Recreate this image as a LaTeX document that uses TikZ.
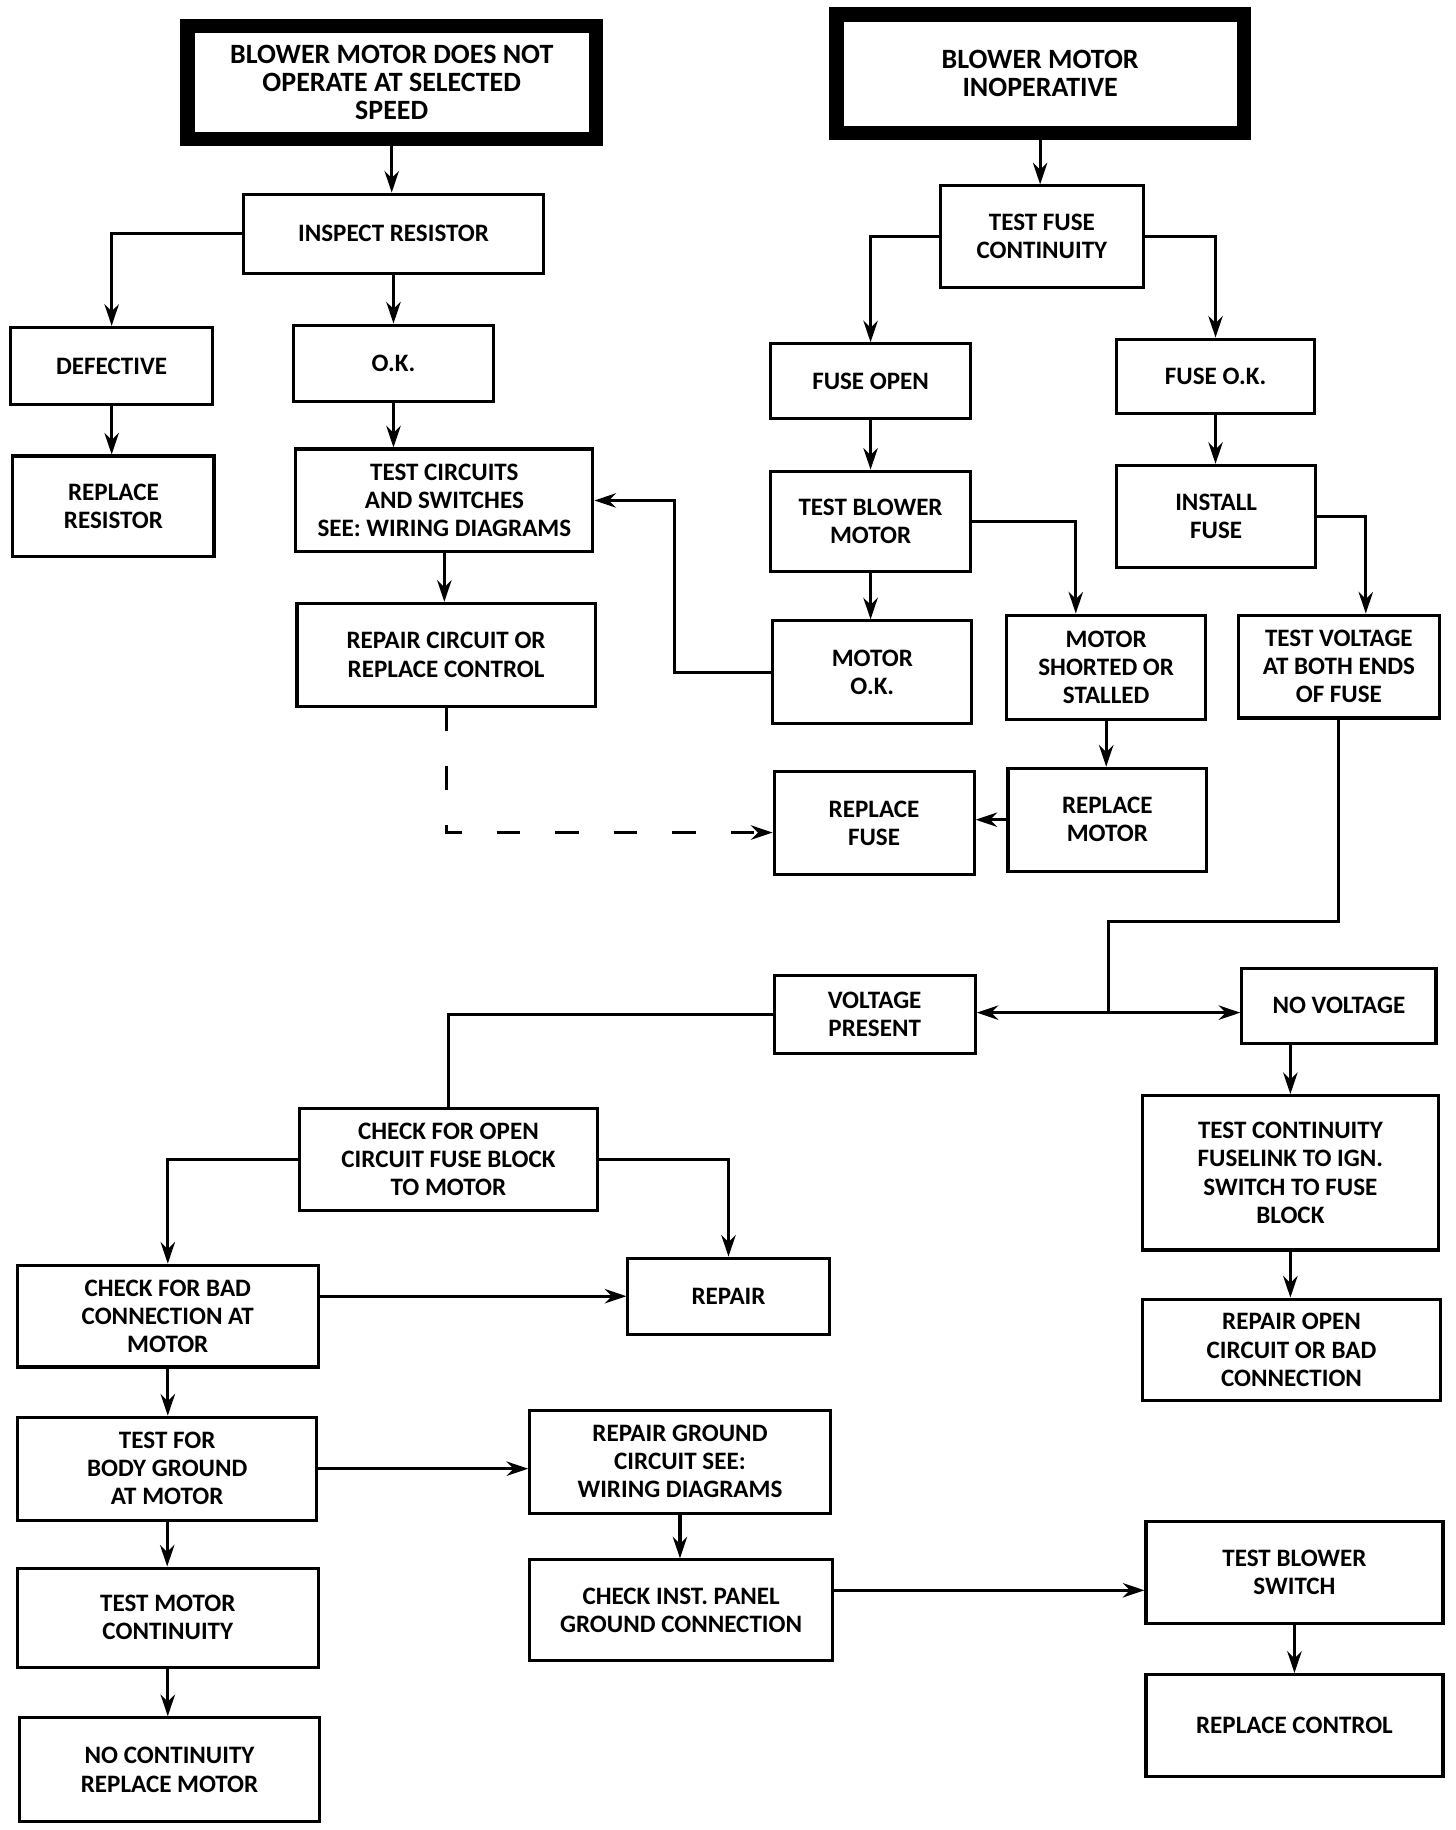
\documentclass[tikz,border=0pt]{standalone}
\usepackage{fontspec}
\setmainfont{Carlito}
\usepackage{tikz}
\usetikzlibrary{arrows.meta}

\begin{document}
\begin{tikzpicture}[->,>={Stealth[length=10.5pt,width=7pt]},line width=1.5pt]

                \tikzset{box/.style={draw, rectangle, align=center, fill=white, inner sep=2pt,
                                     font=\bfseries\fontsize{12.2}{13.7}\selectfont},
                         title/.style={box, line width=7pt, font=\bfseries\fontsize{13.6}{13.7}\selectfont},
                         dashline/.style={dash pattern=on 0.4cm off 0.6cm}}

                \useasboundingbox (0,0) rectangle (24.9,-31.3);

                % left column
                \node[title, minimum width=6.99cm, minimum height=1.93cm] (t1) at (6.70,-1.41) {BLOWER MOTOR DOES NOT\\OPERATE AT SELECTED\\SPEED};
                \node[box, minimum width=5.14cm, minimum height=1.36cm] (insp) at (6.73,-4.00) {INSPECT RESISTOR};
                \node[box, minimum width=3.46cm, minimum height=1.32cm] (defect) at (1.91,-6.26) {DEFECTIVE};
                \node[box, minimum width=3.42cm, minimum height=1.30cm] (ok1) at (6.73,-6.21) {O.K.};
                \node[box, minimum width=3.44cm, minimum height=1.72cm] (replres) at (1.94,-8.66) {REPLACE\\RESISTOR};
                \node[box, minimum width=5.08cm, minimum height=1.76cm] (testcirc) at (7.60,-8.56) {TEST CIRCUITS\\AND SWITCHES\\SEE: WIRING DIAGRAMS};
                \node[box, minimum width=5.10cm, minimum height=1.76cm] (repcirc) at (7.63,-11.20) {REPAIR CIRCUIT OR\\REPLACE CONTROL};

                % right column
                \node[title, minimum width=6.97cm, minimum height=2.03cm] (t2) at (17.79,-1.26) {BLOWER MOTOR\\INOPERATIVE};
                \node[box, minimum width=3.48cm, minimum height=1.74cm] (testfuse) at (17.82,-4.05) {TEST FUSE\\CONTINUITY};
                \node[box, minimum width=3.42cm, minimum height=1.28cm] (fuseopen) at (14.89,-6.52) {FUSE OPEN};
                \node[box, minimum width=3.38cm, minimum height=1.28cm] (fuseok) at (20.79,-6.44) {FUSE O.K.};
                \node[box, minimum width=3.42cm, minimum height=1.72cm] (testmotor) at (14.89,-8.92) {TEST BLOWER\\MOTOR};
                \node[box, minimum width=3.40cm, minimum height=1.74cm] (install) at (20.80,-8.83) {INSTALL\\FUSE};
                \node[box, minimum width=3.40cm, minimum height=1.76cm] (motorok) at (14.92,-11.50) {MOTOR\\O.K.};
                \node[box, minimum width=3.40cm, minimum height=1.78cm] (shorted) at (18.92,-11.41) {MOTOR\\SHORTED OR\\STALLED};
                \node[box, minimum width=3.44cm, minimum height=1.76cm] (testvolt) at (22.90,-11.40) {TEST VOLTAGE\\AT BOTH ENDS\\OF FUSE};
                \node[box, minimum width=3.42cm, minimum height=1.76cm] (replfuse) at (14.95,-14.08) {REPLACE\\FUSE};
                \node[box, minimum width=3.40cm, minimum height=1.76cm] (replmotor) at (18.94,-14.02) {REPLACE\\MOTOR};

                % lower half
                \node[box, minimum width=3.44cm, minimum height=1.34cm] (voltpres) at (14.96,-17.35) {VOLTAGE\\PRESENT};
                \node[box, minimum width=3.32cm, minimum height=1.28cm] (novolt) at (22.90,-17.20) {NO VOLTAGE};
                \node[box, minimum width=5.10cm, minimum height=1.74cm] (chkopen) at (7.67,-19.83) {CHECK FOR OPEN\\CIRCUIT FUSE BLOCK\\TO MOTOR};
                \node[box, minimum width=5.06cm, minimum height=2.64cm] (testlink) at (22.07,-20.06) {TEST CONTINUITY\\FUSELINK TO IGN.\\SWITCH TO FUSE\\BLOCK};
                \node[box, minimum width=5.14cm, minimum height=1.74cm] (chkbad) at (2.87,-22.51) {CHECK FOR BAD\\CONNECTION AT\\MOTOR};
                \node[box, minimum width=3.44cm, minimum height=1.30cm] (repair) at (12.46,-22.17) {REPAIR};
                \node[box, minimum width=5.10cm, minimum height=1.74cm] (repopen) at (22.09,-23.09) {REPAIR OPEN\\CIRCUIT OR BAD\\CONNECTION};
                \node[box, minimum width=5.12cm, minimum height=1.76cm] (bodygnd) at (2.86,-25.12) {TEST FOR\\BODY GROUND\\AT MOTOR};
                \node[box, minimum width=5.14cm, minimum height=1.76cm] (repgnd) at (11.63,-25.00) {REPAIR GROUND\\CIRCUIT SEE:\\WIRING DIAGRAMS};
                \node[box, minimum width=5.14cm, minimum height=1.70cm] (motorcont) at (2.87,-27.67) {TEST MOTOR\\CONTINUITY};
                \node[box, minimum width=5.18cm, minimum height=1.72cm] (instpanel) at (11.65,-27.54) {CHECK INST. PANEL\\GROUND CONNECTION};
                \node[box, minimum width=5.08cm, minimum height=1.74cm] (blowsw) at (22.14,-26.89) {TEST BLOWER\\SWITCH};
                \node[box, minimum width=5.08cm, minimum height=1.74cm] (replctrl) at (22.14,-29.51) {REPLACE CONTROL};
                \node[box, minimum width=5.12cm, minimum height=1.78cm] (nocont) at (2.90,-30.27) {NO CONTINUITY\\REPLACE MOTOR};

                \coordinate (junc) at (18.96,-17.32);

                \draw (t1) -- (t1 |- insp.north);
                \draw (insp.west) -| (defect.north);
                \draw (insp) -- (insp |- ok1.north);
                \draw (defect) -- (defect |- replres.north);
                \draw (ok1) -- (ok1 |- testcirc.north);
                \draw (testcirc) -- (testcirc |- repcirc.north);
                \draw[dashline] (repcirc.south) |- ([yshift=-0.16cm]replfuse.west);

                \draw (t2) -- (t2 |- testfuse.north);
                \draw (testfuse.west) -| (fuseopen.north);
                \draw (testfuse.east) -| (fuseok.north);
                \draw (fuseopen) -- (fuseopen |- testmotor.north);
                \draw (fuseok) -- (fuseok |- install.north);
                \draw (testmotor) -- (testmotor |- motorok.north);
                \draw (testmotor.east) -| ([xshift=-0.52cm]shorted.north);
                \draw (motorok.west) -- ++(-1.66,0) |- (testcirc.east);
                \draw (shorted) -- (shorted |- replmotor.north);
                \draw (replmotor.west) -- (replmotor.west -| replfuse.east);
                \draw (install.east) -| ([xshift=0.46cm]testvolt.north);

                \draw[-] (testvolt.south) -- ++(0,-3.46) -| (junc);
                \draw (junc) -- (voltpres.east |- junc);
                \draw (junc) -- (novolt.west |- junc);
                \draw[-] (voltpres.west) -| (chkopen.north);
                \draw (chkopen.west) -| (chkbad.north);
                \draw (chkopen.east) -| (repair.north);
                \draw (chkbad.east |- repair.west) -- (repair.west);
                \draw (chkbad) -- (chkbad |- bodygnd.north);
                \draw (bodygnd.east) -- (bodygnd.east -| repgnd.west);
                \draw (bodygnd) -- (bodygnd |- motorcont.north);
                \draw (motorcont) -- (motorcont |- nocont.north);
                \draw (repgnd) -- (repgnd |- instpanel.north);
                \draw ([yshift=0.34cm]instpanel.east) -- ([yshift=0.34cm]instpanel.east -| blowsw.west);
                \draw (blowsw) -- (blowsw |- replctrl.north);
                \draw (novolt.south -| testlink.north) -- (testlink.north);
                \draw (testlink) -- (testlink |- repopen.north);
            \end{tikzpicture}
\end{document}
